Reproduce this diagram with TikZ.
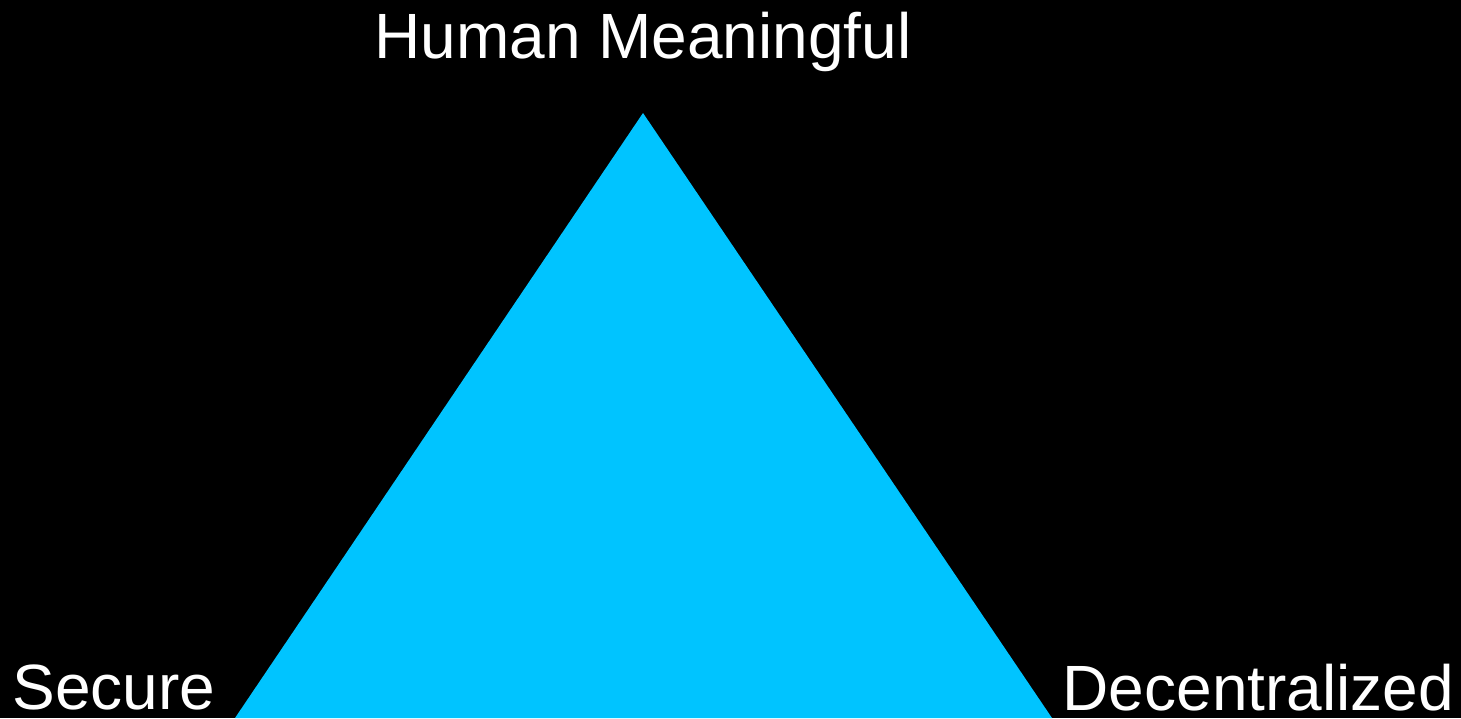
\documentclass[tikz,border=0pt]{standalone}
\usepackage{fontspec}
\setmainfont{Liberation Sans}
\usepackage{tikz}
\usetikzlibrary{positioning}
\definecolor{skyfill}{RGB}{0,196,255}

\begin{document}
\begin{tikzpicture}[x=0.01cm,y=-0.01cm,
    vertexlabel/.style={text=white,inner sep=0pt,font=\fontsize{18.2}{22}\selectfont}]
  % background
  \fill[black] (0,0) rectangle (1461,718);
  \useasboundingbox (0,0) rectangle (1461,718);
  % triangle corners
  \coordinate (top) at (643,113);
  \coordinate (left) at (235,718);
  \coordinate (right) at (1052,718);
  \fill[skyfill] (top) -- (left) -- (right) -- cycle;
  % labels
  \node[vertexlabel,anchor=base] (human) at (643,58) {Human Meaningful};
  \node[vertexlabel,anchor=base west] (secure) at (12,709) {Secure};
  \node[vertexlabel,anchor=base west] (decent) at (1062,710) {Decentralized};
\end{tikzpicture}
\end{document}
